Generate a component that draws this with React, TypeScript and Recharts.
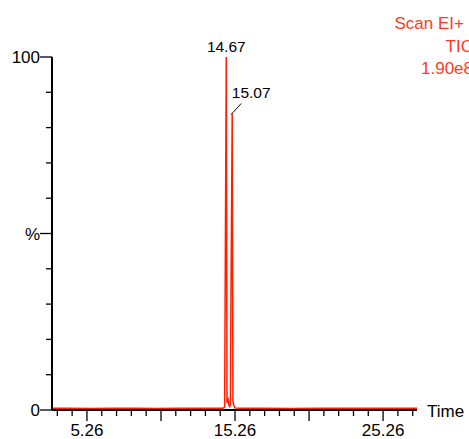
import React from 'react';
import { LineChart, Line, XAxis, YAxis, LabelList } from 'recharts';

// retention time (min) and relative intensity (%) of the TIC trace
const times = [
  2.9, 4, 5.5, 7, 8.5, 10, 11.5, 13, 14, 14.45, 14.56, 14.58, 14.67, 14.72, 14.78,
  14.84, 14.9, 14.95, 14.97, 15.07, 15.12, 15.18, 15.25, 15.5, 17, 19, 21, 23, 25, 27.55,
];
const intensity = [
  0.5, 0.5, 0.4, 0.5, 0.5, 0.4, 0.5, 0.5, 0.5, 0.5, 0.8, 20, 100, 2, 3.5,
  1.5, 1, 1.5, 21, 84, 2.5, 1.2, 0.6, 0.5, 0.5, 0.4, 0.5, 0.5, 0.5, 0.5,
];

const peakTimes = [14.67, 15.07];
const xTicks = [
  3.26, 4.26, 5.26, 6.26, 7.26, 8.26, 9.26, 10.26, 11.26, 12.26, 13.26, 14.26, 15.26,
  16.26, 17.26, 18.26, 19.26, 20.26, 21.26, 22.26, 23.26, 24.26, 25.26, 26.26, 27.26,
];
const xMajor = [5.26, 10.26, 15.26, 20.26, 25.26];
const xLabelled = [5.26, 15.26, 25.26];
const yTicks = [0, 10, 20, 30, 40, 50, 60, 70, 80, 90, 100];
const yLabels: Record<number, string> = { 0: '0', 50: '%', 100: '100' };
const headerLines = ['Scan EI+', 'TIC', '1.90e8'];

const data = times.map((t, i) => ({ time: t, value: intensity[i] }));

const FONT = '"Liberation Sans", Arial, sans-serif';
const RED = '#ff1e00';
const TEXT_RED = '#ff3a1e';
const AXIS_FS = 17;
const PEAK_FS = 15.5;

function XTick(props: any) {
  const { x, y, payload } = props;
  const v = Math.round(payload.value * 100) / 100;
  const len = xMajor.includes(v) ? 11 : 6;
  return (
    <g>
      <line x1={x} x2={x} y1={y} y2={y + len} stroke="#000" strokeWidth={1.3} />
      {xLabelled.includes(v) && (
        <text x={x} y={y + 26} textAnchor="middle" fontFamily={FONT} fontSize={AXIS_FS} fill="#000">
          {v.toFixed(2)}
        </text>
      )}
    </g>
  );
}

function YTick(props: any) {
  const { x, y, payload } = props;
  const v = payload.value;
  const label = yLabels[v];
  const len = label ? 12 : 6;
  return (
    <g>
      <line x1={x - len} x2={x} y1={y} y2={y} stroke="#000" strokeWidth={1.3} />
      {label && (
        <text x={x - 12} y={y + 6} textAnchor="end" fontFamily={FONT} fontSize={AXIS_FS} fill="#000">
          {label}
        </text>
      )}
    </g>
  );
}

function PeakLabel(props: any) {
  const { x, y, value } = props;
  if (!peakTimes.includes(value)) return null;
  if (value === peakTimes[0]) {
    return (
      <text x={x} y={y - 5} textAnchor="middle" fontFamily={FONT} fontSize={PEAK_FS} fill="#000">
        {value.toFixed(2)}
      </text>
    );
  }
  return (
    <g>
      <line x1={x - 1} y1={y + 1} x2={x + 9} y2={y - 10} stroke="#000" strokeWidth={1} />
      <text x={x + 19} y={y - 15} textAnchor="middle" fontFamily={FONT} fontSize={PEAK_FS} fill="#000">
        {value.toFixed(2)}
      </text>
    </g>
  );
}

function TimeLabel(props: any) {
  const { viewBox } = props;
  return (
    <text
      x={viewBox.x + viewBox.width + 10}
      y={viewBox.y + 7}
      fontFamily={FONT}
      fontSize={AXIS_FS}
      fill="#000"
    >
      Time
    </text>
  );
}

export default function App() {
  return (
    <div style={{ position: 'absolute', left: 0, top: 0, width: 469, height: 439, overflow: 'hidden', background: '#fff' }}>
      <LineChart width={469} height={439} data={data} margin={{ top: 57, right: 52, left: 0, bottom: 0 }}>
        <XAxis
          dataKey="time"
          type="number"
          domain={[2.9, 27.55]}
          ticks={xTicks}
          interval={0}
          height={29}
          tickLine={false}
          tickSize={0}
          tickMargin={0}
          axisLine={{ stroke: '#000', strokeWidth: 2 }}
          tick={<XTick />}
          label={<TimeLabel />}
          allowDataOverflow
        />
        <YAxis
          type="number"
          domain={[0, 100]}
          ticks={yTicks}
          interval={0}
          width={52}
          tickLine={false}
          tickSize={0}
          tickMargin={0}
          axisLine={{ stroke: '#000', strokeWidth: 2 }}
          tick={<YTick />}
        />
        <Line
          type="linear"
          dataKey="value"
          stroke={RED}
          strokeWidth={1.5}
          dot={false}
          isAnimationActive={false}
        >
          <LabelList dataKey="time" content={<PeakLabel />} />
        </Line>
      </LineChart>
      <svg width={469} height={90} style={{ position: 'absolute', left: 0, top: 0 }}>
        {headerLines.map((t, i) => (
          <text
            key={t}
            x={i === 0 ? 464 : 473}
            y={29 + i * 22.5}
            textAnchor="end"
            fontFamily={FONT}
            fontSize={17}
            fill={TEXT_RED}
          >
            {t}
          </text>
        ))}
      </svg>
    </div>
  );
}
